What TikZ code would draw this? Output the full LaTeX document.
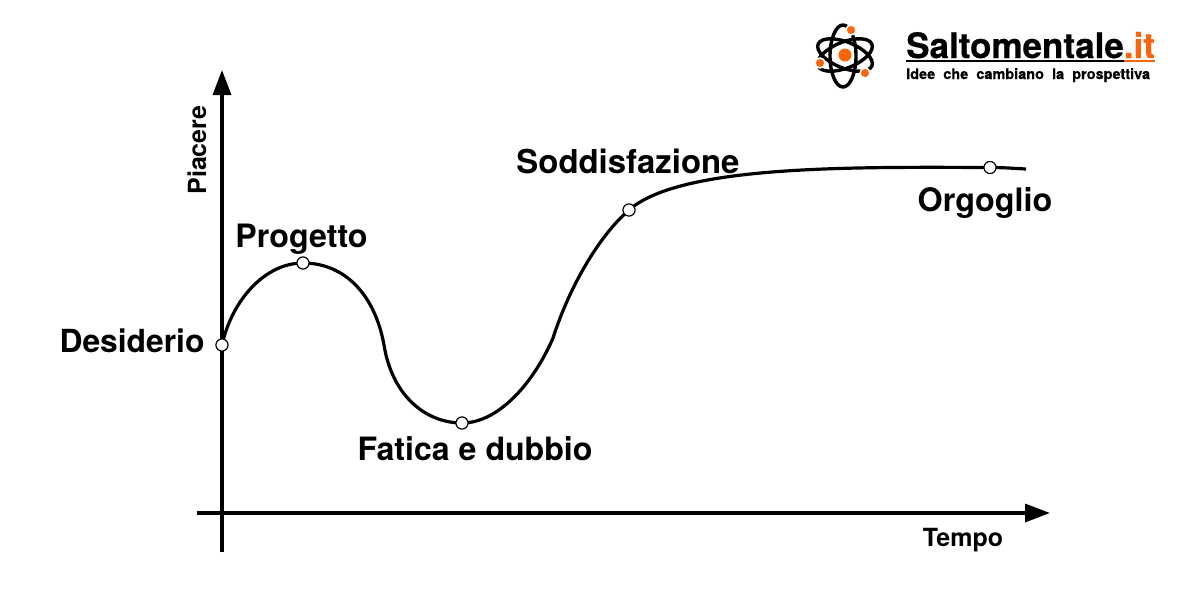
\documentclass[tikz,border=0pt]{standalone}
\usepackage{fontspec}
\setmainfont{TeX Gyre Heros}
\newfontfamily\logofont{TeX Gyre Heros}[BoldFeatures={FakeBold=0.5}]
\usetikzlibrary{arrows.meta}
\definecolor{logoorange}{RGB}{250,100,10}
\newcommand{\labsize}[1]{\fontsize{#1}{#1}\selectfont\bfseries}
\tikzset{
  x=1pt,y=-1pt,
  lab/.style={inner sep=0pt,text=black},
  axlab/.style={font=\fontsize{25}{25}\selectfont\bfseries,inner sep=0pt,text=black},
  pt/.style={circle,draw=black,fill=white,line width=1pt,minimum size=12pt,inner sep=0pt},
  axis/.style={line width=3.4pt,black,-{Triangle[length=25pt,width=18pt]}},
  curve/.style={line width=3.2pt,black},
  orbit/.style={draw=black,line width=3.4pt},
  dot/.style={circle,fill=logoorange,inner sep=0pt,draw=white,line width=1.5pt},
}
\begin{document}
\begin{tikzpicture}
\useasboundingbox (0,0) rectangle (1200,600);
\coordinate (ybot) at (222,552);
\coordinate (ytop) at (222,70);
\coordinate (xl) at (197,513);
\coordinate (xr) at (1050,513);
\draw[axis] (ybot) -- (ytop);
\draw[axis] (xl) -- (xr);
\node[pt] (d) at (222,345) {};
\node[pt] (p) at (303,263) {};
\node[pt] (f) at (462,423) {};
\node[pt] (s) at (629,210) {};
\node[pt] (o) at (990,167.5) {};
\coordinate (k1) at (384,345);
\coordinate (k2) at (553,338);
\coordinate (e) at (1026,169);
\draw[curve] (d.center) .. controls (232,300) and (265,263) .. (p.center)
  .. controls (345,263) and (375,295) .. (k1)
  .. controls (392,395) and (425,423) .. (f.center)
  .. controls (500,423) and (535,380) .. (k2)
  .. controls (570,285) and (600,235) .. (s.center)
  .. controls (680,165) and (850,167) .. (o.center)
  .. controls (1005,167.5) and (1015,168.5) .. (e);
\node[pt] at (d) {};
\node[pt] at (p) {};
\node[pt] at (f) {};
\node[pt] at (s) {};
\node[pt] at (o) {};
\node[lab,font=\labsize{31.8}] (tD) at (132,341) {Desiderio};
\node[lab,font=\labsize{32.2}] (tP) at (301.5,239.5) {Progetto};
\node[lab,font=\labsize{32.1}] (tF) at (475,449) {Fatica e dubbio};
\node[lab,font=\labsize{32.9}] (tS) at (628,161) {Soddisfazione};
\node[lab,font=\labsize{32.3}] (tO) at (985,203) {Orgoglio};
\node[axlab,rotate=90] (tY) at (197,150) {Piacere};
\node[axlab] (tX) at (963,540) {Tempo};
% logo
\coordinate (c) at (845,55);
\coordinate (cv) at (843,56);
\draw[orbit] (c) ellipse[x radius=29,y radius=13,rotate=22];
\draw[orbit] (c) ellipse[x radius=29,y radius=13,rotate=-22];
\draw[orbit] (cv) ellipse[x radius=31,y radius=13,rotate=90];
\node[dot,draw=none,minimum size=13pt] (c0) at (c) {};
\node[dot,minimum size=10pt] (c1) at (851,30) {};
\node[dot,minimum size=10pt] (c2) at (820,63) {};
\node[dot,minimum size=10pt] (c3) at (865,73) {};
\node[inner sep=0pt,anchor=base west,font=\logofont\fontsize{35}{35}\selectfont\bfseries] (brand) at (906,58) {Saltomentale\textcolor{logoorange}{.it}};
\draw[line width=2pt,black] (906,61) -- (1124,61);
\draw[line width=2pt,logoorange] (1124,61) -- (1155,61);
\node[inner sep=0pt,anchor=base west,font=\logofont\fontsize{14.5}{14.5}\selectfont\bfseries] (tag) at (906,79) {Idee\ \ che\ \ cambiano\ \ la\ \ prospettiva};
\end{tikzpicture}
\end{document}
